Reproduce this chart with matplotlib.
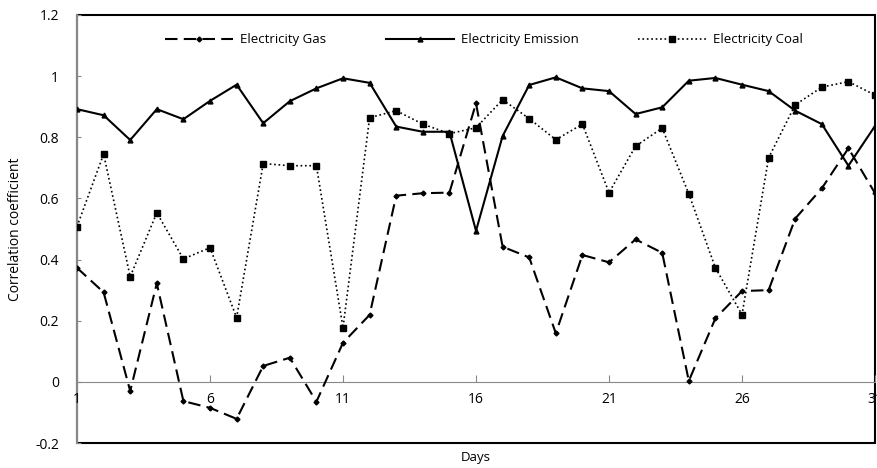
import numpy as np
import matplotlib.pyplot as plt
from matplotlib.patches import Rectangle

plt.rcParams['font.family'] = ['Open Sans', 'DejaVu Sans']

days = np.arange(1, 32)

gas = [0.373, 0.293, -0.030, 0.322, -0.063, -0.085, -0.121, 0.052, 0.079, -0.065,
       0.128, 0.219, 0.609, 0.617, 0.619, 0.911, 0.442, 0.407, 0.159, 0.415,
       0.391, 0.466, 0.422, 0.003, 0.208, 0.297, 0.300, 0.534, 0.633, 0.764, 0.617]

emission = [0.892, 0.872, 0.791, 0.892, 0.859, 0.919, 0.972, 0.846, 0.918, 0.960,
            0.993, 0.978, 0.835, 0.818, 0.818, 0.494, 0.804, 0.971, 0.996, 0.960,
            0.951, 0.876, 0.898, 0.985, 0.994, 0.972, 0.951, 0.887, 0.843, 0.707, 0.837]

coal = [0.508, 0.745, 0.344, 0.553, 0.402, 0.439, 0.210, 0.714, 0.707, 0.707,
        0.177, 0.864, 0.887, 0.843, 0.812, 0.831, 0.923, 0.861, 0.792, 0.843,
        0.619, 0.771, 0.830, 0.615, 0.373, 0.220, 0.733, 0.906, 0.964, 0.982, 0.938]

xticks = [1, 6, 11, 16, 21, 26, 31]
yticks = [-0.2, 0, 0.2, 0.4, 0.6, 0.8, 1, 1.2]
ytick_labels = ['-0.2', '0', '0.2', '0.4', '0.6', '0.8', '1', '1.2']

fig = plt.figure(figsize=(8.78, 4.68), dpi=100)
ax = fig.add_axes([0.0877, 0.0534, 0.9089, 0.9146])

ax.plot(days, gas, color='black', linestyle=(0, (6, 3)), linewidth=1.5,
        marker='D', markersize=2.5, label='Electricity Gas')
ax.plot(days, emission, color='black', linestyle='-', linewidth=1.5,
        marker='^', markersize=3.5, label='Electricity Emission')
ax.plot(days, coal, color='black', linestyle=':', linewidth=1.2,
        marker='s', markersize=4.3, label='Electricity Coal')

ax.set_xlim(1, 31)
ax.set_ylim(-0.2, 1.2)
ax.set_xticks(xticks)
ax.set_yticks(yticks)
ax.set_yticklabels(ytick_labels)

# x axis line at zero (gray), outer frame black, gray value axis on the left
ax.spines['bottom'].set_position(('data', 0))
ax.spines['bottom'].set_color('#888888')
ax.spines['bottom'].set_zorder(0.4)
ax.spines['left'].set_color('#888888')
ax.spines['left'].set_linewidth(1.5)
ax.spines['left'].set_zorder(0.4)
ax.spines['top'].set_visible(False)
ax.spines['right'].set_visible(False)
ax.add_patch(Rectangle((0, 0), 1, 1, transform=ax.transAxes, fill=False,
                       edgecolor='black', linewidth=1.5, clip_on=False, zorder=0))

ax.tick_params(axis='x', direction='in', length=5, color='#888888', pad=7, labelsize=10)
ax.tick_params(axis='y', direction='in', length=3, color='#888888', pad=13, labelsize=10)

ax.set_ylabel('Correlation coefficient', fontsize=10, labelpad=9)
ax.text(0.5, -0.035, 'Days', transform=ax.transAxes, ha='center', va='center', fontsize=9.5)

ax.legend(loc='upper center', bbox_to_anchor=(0.51, 0.985), ncol=3, frameon=False,
          fontsize=9.5, numpoints=1, handlelength=5.2, columnspacing=4.5, handletextpad=0.5)

fig.savefig('out.png', dpi=100)
